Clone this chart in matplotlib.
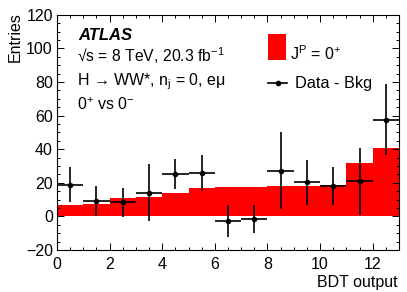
import matplotlib
matplotlib.use("Agg")
import matplotlib.pyplot as plt
import numpy as np
from matplotlib.patches import Rectangle
from matplotlib.lines import Line2D
from matplotlib.ticker import MultipleLocator, FixedLocator

plt.rcParams['font.family'] = ['Liberation Sans', 'DejaVu Sans']
plt.rcParams['mathtext.fontset'] = 'custom'
plt.rcParams['mathtext.rm'] = 'Liberation Sans'
plt.rcParams['mathtext.it'] = 'Liberation Sans:italic'
plt.rcParams['mathtext.bf'] = 'Liberation Sans:bold'

# Data
bin_edges = [0, 1, 2, 3, 4, 5, 6, 7, 8, 9, 10, 11, 12, 13]
signal_0plus = [6.5, 7.5, 10.9, 11.5, 13.9, 16.8, 17.2, 17.2, 17.8, 18.2, 18.4, 31.7, 40.4]
data_x = [0.5, 1.5, 2.5, 3.5, 4.5, 5.5, 6.5, 7.5, 8.5, 9.5, 10.5, 11.5, 12.5]
data_minus_bkg = [18.7, 9.1, 8.4, 14.2, 25.2, 25.9, -3.0, -1.7, 27.2, 20.3, 18.1, 20.8, 57.5]
data_err = [10.4, 8.7, 8.6, 16.9, 8.9, 10.5, 9.5, 8.4, 22.8, 13.3, 11.3, 20.1, 21.0]
x_err = [0.5] * 13
y_ticks = [-20, 0, 20, 40, 60, 80, 100, 120]
y_ticklabels = ['\u221220', '0', '20', '40', '60', '80', '100', '120']

fig = plt.figure(figsize=(4.07, 2.92), dpi=100)
ax = fig.add_axes([57/407, 1-250/292, 342/407, (250-14.7)/292])

ax.stairs(signal_0plus, bin_edges, fill=True, color='#ff0000', baseline=0, lw=0)
ax.errorbar(data_x, data_minus_bkg, yerr=data_err, xerr=x_err, fmt='o', color='black',
            markersize=3.0, elinewidth=1.2, capsize=0)

ax.set_xlim(0, 13)
ax.set_ylim(-20, 120)
ax.xaxis.set_major_locator(MultipleLocator(2))
ax.xaxis.set_minor_locator(MultipleLocator(0.5))
ax.set_yticks(y_ticks)
ax.set_yticklabels(y_ticklabels)
ax.yaxis.set_minor_locator(MultipleLocator(5))
ax.tick_params(which='both', direction='in', top=True, right=True, labelsize=11.5, width=0.7)
ax.tick_params(which='major', length=5)
ax.tick_params(which='minor', length=2.5)
ax.tick_params(axis='x', pad=5)
ax.tick_params(axis='y', pad=3)
for s in ax.spines.values():
    s.set_linewidth(0.8)

fig.text(15/407, 1-12/292, 'Entries', rotation=90, ha='center', va='top', fontsize=11.5)
fig.text(398/407, 1-282/292, 'BDT output', ha='right', va='center', fontsize=11.5)

# Labels
fig.text(78/407, 1-40/292, 'ATLAS', fontsize=12, fontweight='bold', fontstyle='italic')
fig.text(77/407, 1-62/292, '\u221As = 8 TeV, 20.3 fb$^{-1}$', fontsize=11.3)
fig.text(77/407, 1-85/292, 'H \u2192 WW*, n$_{\\mathrm{j}}$ = 0, e\u03bc', fontsize=11.5)
fig.text(77/407, 1-110/292, '0$^{+}$ vs 0$^{-}$', fontsize=11.5)

# Legend
fig.patches.append(Rectangle((268/407, 1-60/292), 18/407, 26/292, transform=fig.transFigure,
                             facecolor='#ff0000', edgecolor='none'))
fig.text(290/407, 1-60/292, 'J$^{\\mathrm{P}}$ = 0$^{+}$', fontsize=11.5)
fig.lines.append(Line2D([268/407, 287/407], [1-83/292, 1-83/292], transform=fig.transFigure,
                        color='black', lw=1.2))
fig.lines.append(Line2D([277.5/407], [1-83/292], transform=fig.transFigure,
                        color='black', marker='o', markersize=3.0, ls='none'))
fig.text(295/407, 1-88/292, 'Data - Bkg', fontsize=11.7)

fig.savefig('out.png', dpi=100)
